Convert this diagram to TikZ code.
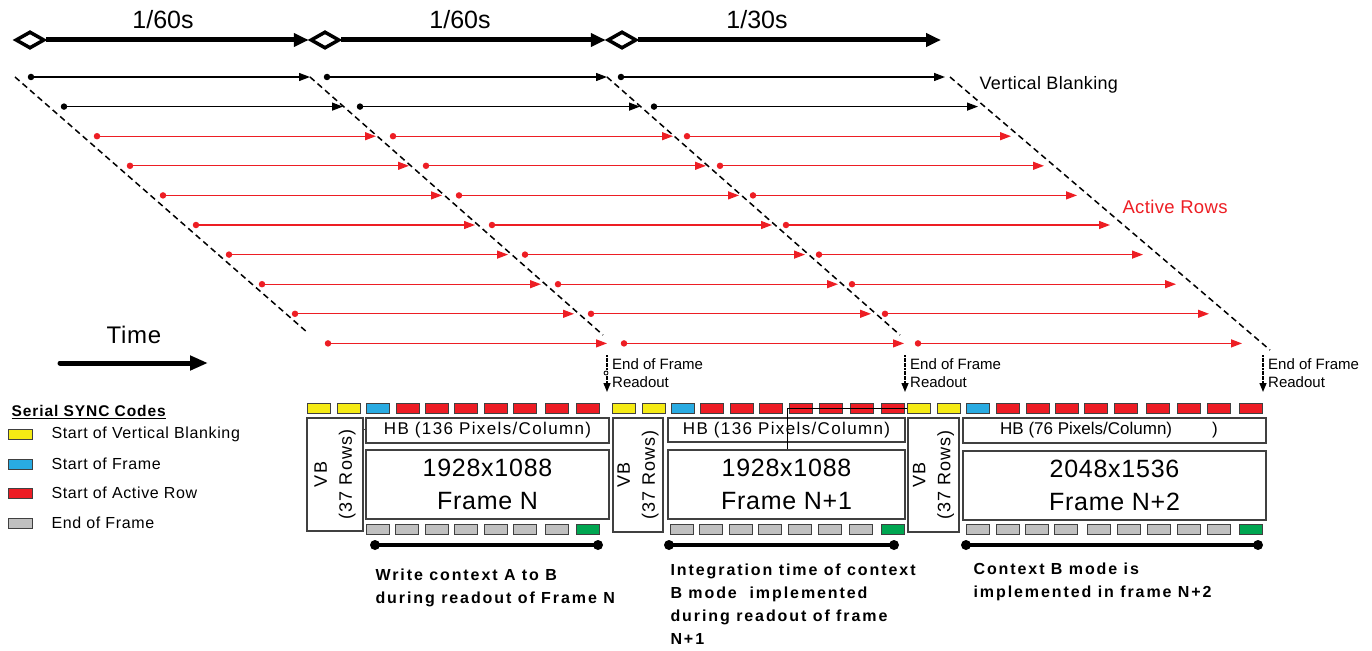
\documentclass[tikz,border=0pt]{standalone}
\usepackage{fontspec}
\setmainfont{Liberation Sans}
\usetikzlibrary{arrows.meta,shapes.geometric}
\definecolor{cY}{RGB}{245,235,20}
\definecolor{cB}{RGB}{41,171,226}
\definecolor{cR}{RGB}{237,28,36}
\definecolor{cG}{RGB}{192,192,192}
\definecolor{cN}{RGB}{0,166,81}
\definecolor{cA}{RGB}{237,30,36}
\definecolor{bx}{RGB}{64,64,64}
\newcommand\fs[2]{\fontsize{#1}{#2}\selectfont}
\begin{document}
\begin{tikzpicture}[x=1pt,y=-1pt,
  dmd/.style={draw,diamond,fill=white,line width=3.5pt,minimum width=29pt,minimum height=17pt,inner sep=0pt,shape aspect=1.7},
  big/.style={line width=5pt,-{Triangle[length=15pt,width=13pt]}},
  dot/.style={circle,inner sep=0pt,minimum size=6.5pt},
  rowarr/.style={line width=1.3pt,-{Triangle[length=11pt,width=8pt]}},
  vdash/.style={dash pattern=on 6pt off 4pt, line width=1.5pt},
  eof/.style={line width=1.4pt, dash pattern=on 2pt off 0.6pt, -{Triangle[length=9pt,width=7pt]}},
  sync/.style={draw=bx, line width=0.9pt, minimum width=23pt, minimum height=10pt, inner sep=0pt},
  box/.style={draw=bx, line width=1.3pt, inner sep=0pt},
  bar/.style={line width=4.5pt},
  bdot/.style={circle, fill=black, inner sep=0pt, minimum size=10pt},
  lbl/.style={font=\fs{16}{23}\bfseries\addfontfeature{LetterSpace=12}, align=left, anchor=west},
  leg/.style={font=\fs{16}{19}\addfontfeature{LetterSpace=4}, anchor=west},
  hbtxt/.style={font=\fs{17}{20}\addfontfeature{LetterSpace=8}},
  frtxt/.style={font=\fs{25}{33}\addfontfeature{LetterSpace=3}, align=center},
  vbtxt/.style={font=\fs{18}{25}\addfontfeature{LetterSpace=6}, align=center, rotate=90},
]
\useasboundingbox (0,0) rectangle (1372,650);

% top period arrows
\node[dmd] (d1) at (30,40) {};
\node[dmd] (d2) at (325,40) {};
\node[dmd] (d3) at (622,40) {};
\coordinate (d4) at (941,40);
\draw[big] (d1.east) -- (d2.west);
\draw[big] (d2.east) -- (d3.west);
\draw[big] (d3.east) -- (d4);
\node[font=\fs{25}{30}] (p1) at (163,20) {1/60s};
\node[font=\fs{25}{30}] (p2) at (460,20) {1/60s};
\node[font=\fs{25}{30}] (p3) at (757,20) {1/30s};

% rows
\foreach \i in {0,...,9} {
  \pgfmathsetmacro\yy{77+29.6*\i}
  \pgfmathsetmacro\dx{33*\i}
  \ifnum\i<2 \def\cc{black}\else\def\cc{cA}\fi
  \foreach \s/\a/\b in {1/31/310, 2/327/607, 3/621/945} {
    \node[dot, fill=\cc] (r\i-\s) at (\a+\dx, \yy) {};
    \coordinate (q\i-\s) at (\b+\dx, \yy);
    \draw[rowarr, draw=\cc] (r\i-\s) -- (q\i-\s);
  }
}

% dashed frame boundaries
\coordinate (l1a) at (15,77);   \coordinate (l1b) at (308,333);
\coordinate (l2a) at (310,77);  \coordinate (l2b) at (603,335);
\coordinate (l3a) at (607,77);  \coordinate (l3b) at (900,335);
\coordinate (l4a) at (950,77);  \coordinate (l4b) at (1270,350);
\draw[vdash] (l1a) -- (l1b);
\draw[vdash] (l2a) -- (l2b);
\draw[vdash] (l3a) -- (l3b);
\draw[vdash] (l4a) -- (l4b);

\node[anchor=west, font=\fs{18}{22}\addfontfeature{LetterSpace=2}] (vbl) at (976,85) {Vertical Blanking};
\node[anchor=west, font=\fs{18.5}{22}\addfontfeature{LetterSpace=2}, text=cA] (arl) at (1119,207) {Active Rows};

% time
\node[font=\fs{24}{28}\addfontfeature{LetterSpace=3}] (time) at (134,335) {Time};
\coordinate (ta) at (60,363); \coordinate (tb) at (208,363);
\draw[line width=5pt, line cap=round, -{Triangle[length=18pt,width=14pt]}] (ta) -- (tb);

% end of frame
\foreach \k/\x in {1/607, 2/905, 3/1263} {
  \coordinate (e\k a) at (\x,355);
  \coordinate (e\k b) at (\x,392);
  \draw[eof] (e\k a) -- (e\k b);
  \node[anchor=west, font=\fs{15}{18}, align=left, inner sep=0pt] (e\k t) at (\x+5,373) {End of Frame\\Readout};
}
\draw[line width=0.8pt, fill=white] (606,373) circle (2);

% top sync codes
\foreach \x/\c [count=\k] in {307/cY,337/cY,366/cB,396/cR,425/cR,454/cR,484/cR,513/cR,545/cR,576/cR}
  \node[sync, fill=\c] (ta\k) at (\x+11.5,408) {};
\foreach \x/\c [count=\k] in {612/cY,642/cY,671/cB,700/cR,730/cR,759/cR,789/cR,819/cR,850/cR,881/cR}
  \node[sync, fill=\c] (tb\k) at (\x+11.5,408) {};
\foreach \x/\c [count=\k] in {907/cY,937/cY,966/cB,996/cR,1026/cR,1055/cR,1084/cR,1114/cR,1146/cR,1177/cR,1207/cR,1239/cR}
  \node[sync, fill=\c] (tc\k) at (\x+11.5,408) {};

% bottom sync codes
\foreach \x/\c [count=\k] in {366/cG,395/cG,425/cG,454/cG,484/cG,513/cG,545/cG,576/cN}
  \node[sync, fill=\c] (ba\k) at (\x+11.5,529.5) {};
\foreach \x/\c [count=\k] in {670/cG,699/cG,729/cG,758/cG,788/cG,818/cG,849/cG,881/cN}
  \node[sync, fill=\c] (bb\k) at (\x+11.5,529.5) {};
\foreach \x/\c [count=\k] in {966/cG,996/cG,1025/cG,1054/cG,1087/cG,1117/cG,1147/cG,1177/cG,1207/cG,1239/cN}
  \node[sync, fill=\c] (bc\k) at (\x+11.5,529.5) {};

% frame 1
\node[box, vbtxt, minimum width=113pt, minimum height=56pt] (vb1) at (335,474.5) {VB\\(37 Rows)};
\node[box, hbtxt, minimum width=243pt, minimum height=25pt] (hb1) at (487.5,430.5) {HB (136 Pixels/Column)};
\node[box, frtxt, minimum width=243pt, minimum height=69pt] (fr1) at (487.5,484.5) {1928x1088\\Frame N};
\draw[bx, line width=1pt] (vb1.south |- 0,429) -- (hb1.west |- 0,429);

% frame 2
\node[box, vbtxt, minimum width=114pt, minimum height=50pt] (vb2) at (638,475) {VB\\(37 Rows)};
\node[box, hbtxt, minimum width=237pt, minimum height=24pt] (hb2) at (786.5,430) {HB (136 Pixels/Column)};
\node[box, frtxt, minimum width=237pt, minimum height=69pt] (fr2) at (786.5,484.5) {1928x1088\\Frame N+1};

% frame 3
\node[box, vbtxt, minimum width=114pt, minimum height=51pt] (vb3) at (933.5,475) {VB\\(37 Rows)};
\node[box, minimum width=303pt, minimum height=25pt] (hb3) at (1114.5,430.5) {};
\node[anchor=west, font=\fs{17}{20}, inner sep=0pt] (hb3t) at (1000,430.5) {HB (76 Pixels/Column)\hspace{40pt})};
\node[box, frtxt, minimum width=303pt, minimum height=69pt] (fr3) at (1114.5,485.5) {2048x1536\\Frame N+2};

% stray connector
\coordinate (w1) at (787,408);
\draw[line width=1pt] (fr2.north -| w1) -- (w1) -- (tc1.west);

% bars
\node[bdot] (b1a) at (375,545) {}; \node[bdot] (b1b) at (598,545) {};
\node[bdot] (b2a) at (669,545) {}; \node[bdot] (b2b) at (894,545) {};
\node[bdot] (b3a) at (966,545) {}; \node[bdot] (b3b) at (1258,545) {};
\draw[bar] (b1a.center) -- (b1b.center);
\draw[bar] (b2a.center) -- (b2b.center);
\draw[bar] (b3a.center) -- (b3b.center);

\node[lbl] (n1) at (372,587.5) {Write context A to B\\during readout of Frame N};
\node[lbl] (n2) at (667,604) {Integration time of context\\B mode~ implemented\\during readout of frame\\N+1};
\node[lbl] (n3) at (970,581.5) {Context B mode is\\implemented in frame N+2};

% legend
\node[anchor=west, font=\fs{15.5}{19}\bfseries\addfontfeature{LetterSpace=6}] (lt) at (8,412) {\underline{Serial SYNC Codes}};
\foreach \y/\c/\t [count=\k] in {434/cY/Start of Vertical Blanking, 464/cB/Start of Frame, 493/cR/Start of Active Row, 523/cG/End of Frame} {
  \node[sync, fill=\c, minimum width=24pt] (lg\k) at (20,\y) {};
  \node[leg] (lx\k) at (48,\y) {\t};
}
\end{tikzpicture}
\end{document}
